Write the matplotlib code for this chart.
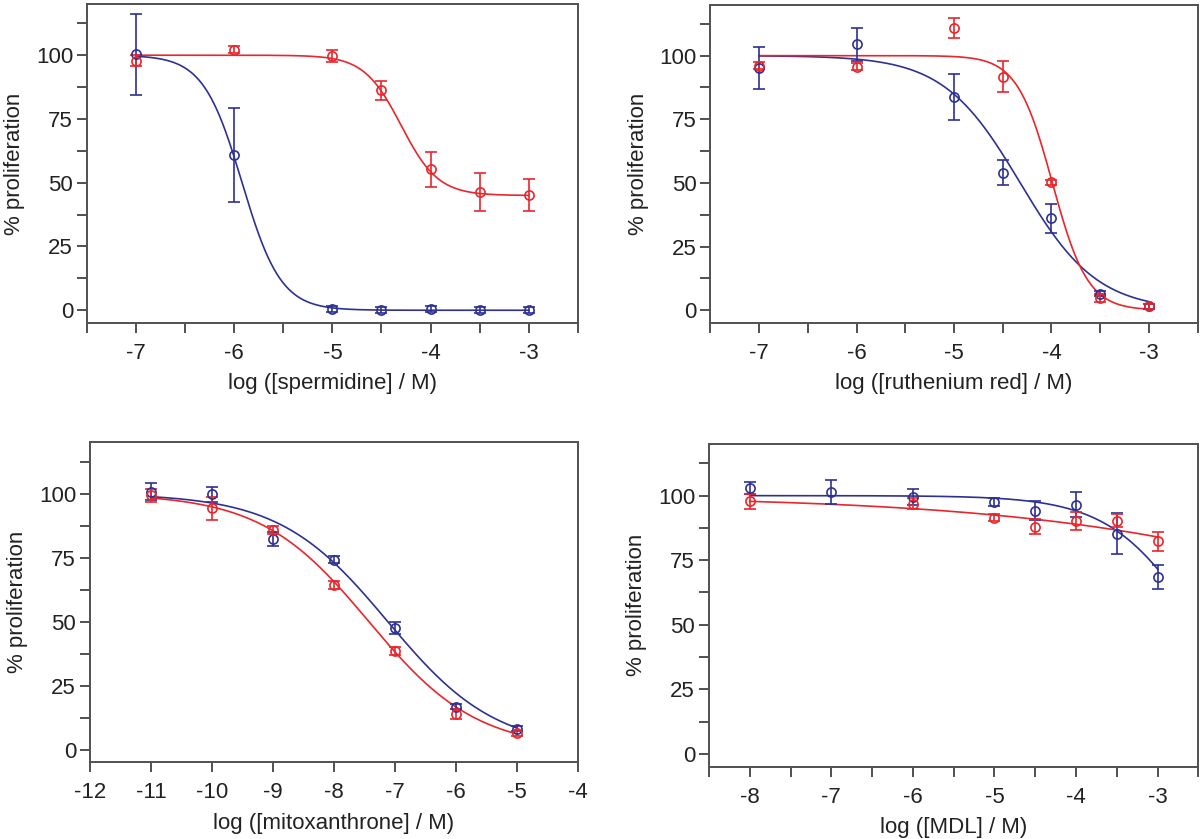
import numpy as np
import matplotlib
matplotlib.use("Agg")
import matplotlib.pyplot as plt
from matplotlib.ticker import MultipleLocator

plt.rcParams['font.family'] = ['Liberation Sans', 'DejaVu Sans']
plt.rcParams['axes.unicode_minus'] = False

BLUE = '#2e3192'
RED = '#e8262b'
FRAME = '#505050'

# ---------------- data ----------------
# Panel A: spermidine
spd_x_blue = [-7, -6, -5, -4.5, -4, -3.5, -3]
spd_y_blue = [100.3, 60.9, 0.4, 0.1, 0.4, 0.0, 0.0]
spd_e_blue = [16.0, 18.5, 1.2, 1.2, 1.2, 1.2, 1.2]
spd_x_red = [-7, -6, -5, -4.5, -4, -3.5, -3]
spd_y_red = [97.9, 102.2, 99.6, 86.2, 55.3, 46.5, 45.2]
spd_e_red = [2.3, 1.5, 2.3, 3.6, 6.8, 7.5, 6.4]
spd_fit_blue = [100, 0, -5.92, 2.2]   # top, bottom, logIC50, Hill
spd_fit_red = [100, 45, -4.30, 2.3]

# Panel B: ruthenium red
rr_x_blue = [-7, -6, -5, -4.5, -4, -3.5, -3]
rr_y_blue = [95.0, 104.4, 83.8, 54.1, 36.1, 6.5, 1.6]
rr_e_blue = [8.2, 6.5, 9.1, 4.9, 5.7, 1.0, 1.0]
rr_x_red = [-7, -6, -5, -4.5, -4, -3.5, -3]
rr_y_red = [96.1, 95.7, 110.8, 91.7, 50.3, 4.7, 1.6]
rr_e_red = [1.5, 1.5, 3.8, 6.0, 1.0, 1.5, 1.0]
rr_fit_blue = [100, 0, -4.32, 1.1]
rr_fit_red = [100, 0, -3.99, 2.4]

# Panel C: mitoxanthrone
mx_x_blue = [-11, -10, -9, -8, -7, -6, -5]
mx_y_blue = [100.7, 99.7, 82.3, 74.2, 47.4, 16.7, 8.2]
mx_e_blue = [3.3, 3.0, 2.8, 1.5, 2.3, 1.0, 1.0]
mx_x_red = [-11, -10, -9, -8, -7, -6, -5]
mx_y_red = [99.3, 94.3, 85.7, 64.3, 38.4, 13.8, 6.3]
mx_e_red = [2.5, 4.5, 1.7, 1.5, 1.5, 2.0, 1.0]
mx_fit_blue = [100, 0, -7.12, 0.49]
mx_fit_red = [100, 0, -7.43, 0.49]

# Panel D: MDL
mdl_x_blue = [-8, -7, -6, -5, -4.5, -4, -3.5, -3]
mdl_y_blue = [103.0, 101.4, 99.4, 97.4, 94.2, 96.5, 85.2, 68.5]
mdl_e_blue = [2.2, 4.5, 3.2, 1.5, 3.7, 4.8, 8.0, 4.8]
mdl_x_red = [-8, -6, -5, -4.5, -4, -3.5, -3]
mdl_y_red = [97.8, 96.9, 91.5, 88.0, 90.3, 90.2, 82.3]
mdl_e_red = [2.8, 2.0, 1.5, 2.9, 3.5, 2.5, 3.7]
mdl_fit_blue = [100, 0, -2.5, 0.8]
mdl_fit_red = [100, 0, 0.89, 0.185]

x_labels = ['log ([spermidine] / M)', 'log ([ruthenium red] / M)',
            'log ([mitoxanthrone] / M)', 'log ([MDL] / M)']
y_label = '% proliferation'
y_ticks = [0, 25, 50, 75, 100]


def logistic(x, p):
    top, bottom, c, h = p
    return bottom + (top - bottom) / (1 + 10 ** ((x - c) * h))


fig = plt.figure(figsize=(12, 8.39), dpi=100)

panels = [
    dict(rect=[0.0725, 0.615, 0.409, 0.380], xlim=(-7.5, -2.5), xstep=0.5,
         xticks=[-7, -6, -5, -4, -3],
         blue=(spd_x_blue, spd_y_blue, spd_e_blue, spd_fit_blue),
         red=(spd_x_red, spd_y_red, spd_e_red, spd_fit_red), xl=x_labels[0]),
    dict(rect=[0.592, 0.615, 0.406, 0.3794], xlim=(-7.5, -2.5), xstep=0.5,
         xticks=[-7, -6, -5, -4, -3],
         blue=(rr_x_blue, rr_y_blue, rr_e_blue, rr_fit_blue),
         red=(rr_x_red, rr_y_red, rr_e_red, rr_fit_red), xl=x_labels[1]),
    dict(rect=[0.075, 0.0914, 0.4067, 0.3814], xlim=(-12, -4), xstep=1,
         xticks=[-12, -11, -10, -9, -8, -7, -6, -5, -4],
         blue=(mx_x_blue, mx_y_blue, mx_e_blue, mx_fit_blue),
         red=(mx_x_red, mx_y_red, mx_e_red, mx_fit_red), xl=x_labels[2]),
    dict(rect=[0.5908, 0.0862, 0.4079, 0.3846], xlim=(-8.5, -2.5), xstep=0.5,
         xticks=[-8, -7, -6, -5, -4, -3],
         blue=(mdl_x_blue, mdl_y_blue, mdl_e_blue, mdl_fit_blue),
         red=(mdl_x_red, mdl_y_red, mdl_e_red, mdl_fit_red), xl=x_labels[3]),
]

FS = 16
for p in panels:
    ax = fig.add_axes(p['rect'])
    for key, col in (('blue', BLUE), ('red', RED)):
        xs, ys, es, fit = p[key]
        xx = np.linspace(min(xs), max(xs), 400)
        ax.plot(xx, logistic(xx, fit), color=col, lw=1.2, zorder=2)
        ax.errorbar(xs, ys, yerr=es, fmt='o', mfc='none', mec=col, mew=1.2,
                    ms=6.6, ecolor=col, elinewidth=1.2, capsize=4, capthick=1.2,
                    zorder=3)
    ax.set_xlim(*p['xlim'])
    ax.set_ylim(-5, 120)
    ticks = np.arange(p['xlim'][0], p['xlim'][1] + 0.01, p['xstep'])
    ax.set_xticks(ticks)
    ax.set_xticklabels([str(int(t)) if t in p['xticks'] else '' for t in ticks])
    ax.set_yticks(y_ticks)
    ax.yaxis.set_minor_locator(MultipleLocator(12.5))
    for s in ax.spines.values():
        s.set_color(FRAME)
        s.set_linewidth(1.4)
    ax.tick_params(axis='both', which='both', direction='out', length=7,
                   width=1.4, color=FRAME, labelsize=FS, labelcolor='#222222')
    ax.tick_params(axis='x', pad=7.5)
    ax.tick_params(axis='y', pad=3)
    ax.set_xlabel(p['xl'], fontsize=FS, color='#222222')
    ax.set_ylabel(y_label, fontsize=FS, color='#222222')
    ax.xaxis.set_label_coords(0.5, -0.157)
    ax.yaxis.set_label_coords(-0.127, 0.5)

fig.savefig('out.png', dpi=100)
